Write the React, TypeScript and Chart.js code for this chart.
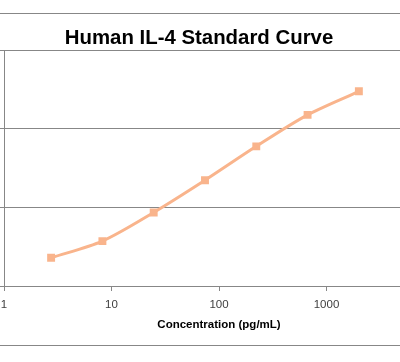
import React, { useEffect, useRef } from "react";
import { Chart, registerables } from "chart.js";

Chart.register(...registerables);

const chartTitle = "Human IL-4 Standard Curve";
const xAxisTitle = "Concentration (pg/mL)";
const concentrations = [2.743, 8.23, 24.69, 74.07, 222.2, 666.7, 2000];
const signal = [0.36, 0.572, 0.937, 1.347, 1.779, 2.18, 2.48];
const xTickValues = [1, 10, 100, 1000, 10000];
const yMin = 0;
const yMax = 3;
const yStep = 1;

const lineColor = "#F9B48C";
const gridColor = "#878787";

export default function App() {
  const canvasRef = useRef<HTMLCanvasElement | null>(null);

  useEffect(() => {
    const canvas = canvasRef.current;
    if (!canvas) return;
    const chart = new Chart(canvas, {
      type: "line",
      data: {
        datasets: [
          {
            data: concentrations.map((x, i) => ({ x, y: signal[i] })),
            borderColor: lineColor,
            backgroundColor: lineColor,
            borderWidth: 3,
            tension: 0.3,
            pointStyle: "rect",
            pointRadius: 5.6,
            pointBorderWidth: 0,
            pointBackgroundColor: lineColor,
            fill: false,
          },
        ],
      },
      options: {
        responsive: false,
        animation: false,
        devicePixelRatio: 1,
        layout: { padding: { left: 21, right: 21, top: 0, bottom: 0 } },
        plugins: {
          legend: { display: false },
          tooltip: { enabled: false },
          title: {
            display: true,
            text: chartTitle,
            color: "#000000",
            font: { family: "'Liberation Sans', Arial, sans-serif", size: 20.4, weight: "bold" },
            padding: { top: 12, bottom: 0 },
          },
        },
        scales: {
          x: {
            type: "logarithmic",
            min: 1,
            max: 10000,
            afterBuildTicks: (scale: any) => {
              scale.ticks = xTickValues.map((v) => ({ value: v }));
            },
            afterFit: (scale: any) => {
              scale.height = 59;
            },
            ticks: {
              color: "#404040",
              font: { family: "'Liberation Sans', Arial, sans-serif", size: 11.5 },
              padding: 7,
              maxRotation: 0,
              autoSkip: false,
              callback: (v: any) => String(v),
            },
            grid: {
              drawOnChartArea: false,
              drawTicks: true,
              tickLength: 5,
              color: gridColor,
            },
            border: { display: true, color: gridColor, width: 1 },
            title: {
              display: true,
              text: xAxisTitle,
              color: "#000000",
              font: { family: "'Liberation Sans', Arial, sans-serif", size: 11.5, weight: "bold" },
              padding: { top: 0, bottom: 13 },
            },
          },
          y: {
            type: "linear",
            min: yMin,
            max: yMax,
            afterFit: (scale: any) => {
              scale.width = 42;
            },
            ticks: { display: false, stepSize: yStep },
            grid: {
              color: gridColor,
              drawTicks: true,
              tickLength: 4,
            },
            border: { display: true, color: gridColor, width: 1 },
          },
        },
      },
    });
    return () => chart.destroy();
  }, []);

  return (
    <div
      style={{
        position: "fixed",
        left: 0,
        top: 0,
        width: 400,
        height: 362,
        overflow: "hidden",
        background: "#ffffff",
      }}
    >
      <div
        style={{
          position: "absolute",
          left: -60,
          top: 13,
          width: 518,
          height: 333,
          boxSizing: "border-box",
          border: `1px solid ${gridColor}`,
        }}
      >
        <canvas
          ref={canvasRef}
          width={516}
          height={331}
          style={{ display: "block", width: 516, height: 331 }}
        />
      </div>
    </div>
  );
}
